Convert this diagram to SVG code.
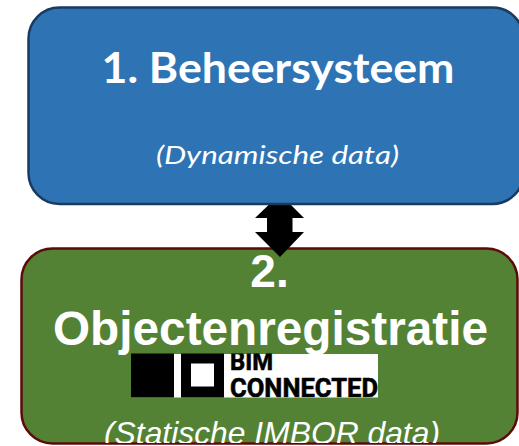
<svg xmlns="http://www.w3.org/2000/svg" width="519" height="446" viewBox="0 0 519 446">
<style>
.w{fill:#fff}
.c{text-anchor:middle}
.a{font-family:"Liberation Sans",Arial,sans-serif}
.l{font-family:Lato,"Open Sans",sans-serif}
.logo{font-family:"Roboto","Liberation Sans",sans-serif;font-weight:700;fill:#000;stroke:#000;stroke-width:.6}
</style>
<defs>
<clipPath id="clip"><rect x="0" y="400" width="519" height="43"/></clipPath>
<clipPath id="logoclip"><rect x="131" y="353.500" width="247" height="44"/></clipPath>
</defs>
<rect width="519" height="446" fill="#fff"/>
<g id="node-objectenregistratie">
<rect x="21.500" y="248.500" width="496" height="195" rx="31" fill="#548235" stroke="#5c0a0a" stroke-width="2.500"/>
<text class="w c a" x="269.500" y="287" font-size="46" font-weight="700">2.</text>
<text class="w c a" x="270.500" y="344.500" font-size="48" font-weight="700" textLength="435" lengthAdjust="spacingAndGlyphs">Objectenregistratie</text>
<g clip-path="url(#clip)"><text class="w c a" x="272" y="444" font-size="32" font-style="italic" textLength="336" lengthAdjust="spacingAndGlyphs">(Statische IMBOR data)</text></g>
</g>
<g id="node-logo">
<rect x="131" y="354" width="247" height="43.500" fill="#fff"/>
<rect x="131" y="353.500" width="43" height="44" fill="#000"/>
<rect x="181" y="353.500" width="43" height="44" fill="#000"/>
<rect x="191" y="363.500" width="23" height="23" fill="#fff"/>
<g clip-path="url(#logoclip)">
<text class="logo" x="230" y="370" font-size="25" textLength="43" lengthAdjust="spacingAndGlyphs">BIM</text>
<text class="logo" x="230" y="397" font-size="26" textLength="148" lengthAdjust="spacingAndGlyphs">CONNECTED</text>
</g>
</g>
<g id="connectors">
<polygon points="280,194 304,218 292.500,218 292.500,232 304,232 280,257 255,232 267,232 267,218 255,218" fill="#000"/>
</g>
<g id="node-beheersysteem">
<rect x="28.500" y="7.500" width="495" height="196.500" rx="31" fill="#2e74b5" stroke="#1a3a60" stroke-width="2.500"/>
<text class="w c l" x="278" y="83" font-size="42" font-weight="700" textLength="353" lengthAdjust="spacingAndGlyphs">1. Beheersysteem</text>
<text class="w c l" x="277.500" y="163.500" font-size="25" font-style="italic" textLength="243" lengthAdjust="spacingAndGlyphs">(Dynamische data)</text>
</g>
</svg>
